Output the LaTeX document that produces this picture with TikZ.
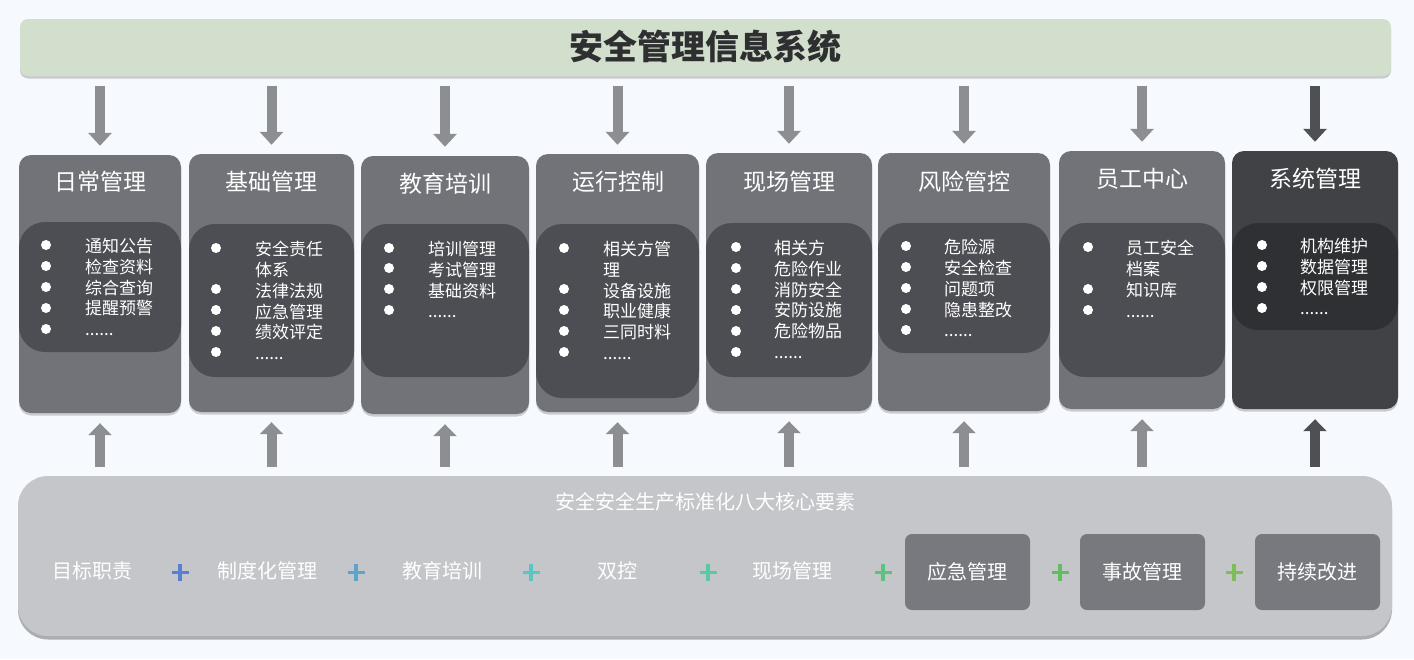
\documentclass[tikz,border=0pt]{standalone}
\usepackage{fontspec}
\setmainfont{Noto Sans CJK SC}
\usetikzlibrary{arrows.meta,fit,shadows,calc}
\definecolor{bg}{HTML}{F6F9FD}
\definecolor{titlefill}{HTML}{D3DFCD}
\definecolor{titletext}{HTML}{2E2F31}
\definecolor{outerc}{HTML}{717378}
\definecolor{innerc}{HTML}{4D4E53}
\definecolor{outerd}{HTML}{414246}
\definecolor{innerd}{HTML}{2F3034}
\definecolor{arrc}{HTML}{8C8E92}
\definecolor{arrd}{HTML}{4F5054}
\definecolor{panelc}{HTML}{C4C6CA}
\definecolor{smallc}{HTML}{77797E}
\definecolor{pa}{HTML}{5A7FD2}
\definecolor{pb}{HTML}{5AA5C9}
\definecolor{pc}{HTML}{58C6C4}
\definecolor{pd}{HTML}{5AC8A0}
\definecolor{pe}{HTML}{5CC37F}
\definecolor{pf}{HTML}{5FBF5F}
\definecolor{pg}{HTML}{7EBD58}
\tikzset{
  shad/.style={drop shadow={shadow xshift=0pt,shadow yshift=-2.5pt,opacity=.18,fill=black}},
  titlebar/.style={fill=titlefill,rounded corners=8pt,inner sep=0pt,shad},
  outerbox/.style={fill=outerc,rounded corners=12pt,inner sep=0pt,shad},
  innerbox/.style={fill=innerc,rounded corners=26pt,inner sep=0pt},
  outerdark/.style={fill=outerd,rounded corners=12pt,inner sep=0pt,shad},
  innerdark/.style={fill=innerd,rounded corners=26pt,inner sep=0pt},
  head/.style={text=white,font=\fontsize{23}{23}\selectfont,inner sep=0pt},
  itemlist/.style={text=white,font=\fontsize{17}{20.8}\selectfont,align=left,inner sep=0pt,anchor=north west},
  dot/.style={fill=white},
  darr/.style={draw=arrc,line width=10pt,-{Triangle[width=23pt,length=13pt]}},
  uarr/.style={draw=arrc,line width=10pt,-{Triangle[width=23pt,length=12pt]}},
  panelbox/.style={fill=panelc,rounded corners=30pt,inner sep=0pt,drop shadow={shadow xshift=0pt,shadow yshift=-3.5pt,opacity=.3,fill=black}},
  ptitle/.style={text=white,font=\fontsize{20}{20}\selectfont,inner sep=0pt},
  elem/.style={text=white,font=\fontsize{20}{20}\selectfont,inner sep=0pt},
  smallbox/.style={fill=smallc,rounded corners=7pt,text=white,font=\fontsize{20}{20}\selectfont,minimum width=125pt,minimum height=76pt,inner sep=0pt},
  plus/.style={line width=3.5pt}
}
\begin{document}
\begin{tikzpicture}[x=1pt,y=-1pt]
\fill[bg] (0,0) rectangle (1414,659);
\useasboundingbox (0,0) rectangle (1414,659);

% title
\node[titlebar,fit={(20,19) (1391,76)}] (title) {};
\node[text=titletext,font=\fontsize{34}{34}\selectfont\bfseries,inner sep=0pt] (ttext) at (705,47) {安全管理信息系统};

% column 1
\node[outerbox,fit={(19,155) (181,413)}] (b1) {};
\node[innerbox,fit={(19,222) (181,352)}] (i1) {};
\node[head] (h1) at (100,182) {日常管理};
\node[itemlist] (l1) at (85,238) {通知公告\\检查资料\\综合查询\\提醒预警\\......};
\foreach \y in {245,266,287,308,329} \fill[dot] (46,\y) circle[radius=5pt];

% column 2
\node[outerbox,fit={(189,154) (354,412)}] (b2) {};
\node[innerbox,fit={(189,224) (354,377)}] (i2) {};
\node[head] (h2) at (271,182) {基础管理};
\node[itemlist] (l2) at (255,241) {安全责任\\体系\\法律法规\\应急管理\\绩效评定\\......};
\foreach \y in {248,289,310,331,352} \fill[dot] (216,\y) circle[radius=5pt];

% column 3
\node[outerbox,fit={(361,156) (529,414)}] (b3) {};
\node[innerbox,fit={(361,224) (529,377)}] (i3) {};
\node[head] (h3) at (445,184) {教育培训};
\node[itemlist] (l3) at (428,241) {培训管理\\考试管理\\基础资料\\......};
\foreach \y in {248,268,289,310} \fill[dot] (389,\y) circle[radius=5pt];

% column 4
\node[outerbox,fit={(536,154) (699,412)}] (b4) {};
\node[innerbox,fit={(536,224) (699,398)}] (i4) {};
\node[head] (h4) at (618,182) {运行控制};
\node[itemlist] (l4) at (603,241) {相关方管\\理\\设备设施\\职业健康\\三同时料\\......};
\foreach \y in {248,289,310,331,352} \fill[dot] (564,\y) circle[radius=5pt];

% column 5
\node[outerbox,fit={(706,153) (872,411)}] (b5) {};
\node[innerbox,fit={(706,223) (872,377)}] (i5) {};
\node[head] (h5) at (789,182) {现场管理};
\node[itemlist] (l5) at (774,240) {相关方\\危险作业\\消防安全\\安防设施\\危险物品\\......};
\foreach \y in {247,268,289,310,331,352} \fill[dot] (736,\y) circle[radius=5pt];

% column 6
\node[outerbox,fit={(878,153) (1050,411)}] (b6) {};
\node[innerbox,fit={(878,223) (1050,353)}] (i6) {};
\node[head] (h6) at (964,182) {风险管控};
\node[itemlist] (l6) at (944,239) {危险源\\安全检查\\问题项\\隐患整改\\......};
\foreach \y in {246,267,288,309,330} \fill[dot] (906,\y) circle[radius=5pt];

% column 7
\node[outerbox,fit={(1059,151) (1225,409)}] (b7) {};
\node[innerbox,fit={(1059,223) (1225,377)}] (i7) {};
\node[head] (h7) at (1142,179) {员工中心};
\node[itemlist] (l7) at (1126,240) {员工安全\\档案\\知识库\\......};
\foreach \y in {247,289,310} \fill[dot] (1088,\y) circle[radius=5pt];

% column 8
\node[outerdark,fit={(1232,151) (1398,409)}] (b8) {};
\node[innerdark,fit={(1232,223) (1398,330)}] (i8) {};
\node[head] (h8) at (1315,179) {系统管理};
\node[itemlist] (l8) at (1300,238) {机构维护\\数据管理\\权限管理\\......};
\foreach \y in {245,266,287,308} \fill[dot] (1262,\y) circle[radius=5pt];

% bottom panel
\node[panelbox,fit={(18,476) (1392,636)}] (panel) {};
\node[ptitle] (pt) at (705,502) {安全安全生产标准化八大核心要素};
\node[elem] (e1) at (92,571) {目标职责};
\node[elem] (e2) at (267,571) {制度化管理};
\node[elem] (e3) at (442,571) {教育培训};
\node[elem] (e4) at (617,571) {双控};
\node[elem] (e5) at (792,571) {现场管理};
\node[smallbox] (e6) at (967.5,572) {应急管理};
\node[smallbox] (e7) at (1142.5,572) {事故管理};
\node[smallbox] (e8) at (1317.5,572) {持续改进};

\foreach \x/\c in {180/pa,356/pb,531/pc,708/pd,883/pe,1060/pf,1234/pg}
  \draw[plus,draw=\c] (\x,564) -- (\x,581) (\x-8.5,572.5) -- (\x+8.5,572.5);

% arrows down
\foreach \b in {b1,b2,b3,b4,b5,b6,b7}
  \draw[darr] ($(\b.north |- title.south)+(0,10)$) -- ($(\b.north)+(0,-9)$);
\draw[darr,draw=arrd] ($(b8.north |- title.south)+(0,10)$) -- ($(b8.north)+(0,-9)$);

% arrows up
\foreach \b in {b1,b2,b3,b4,b5,b6,b7}
  \draw[uarr] ($(\b.south |- panel.north)+(0,-9)$) -- ($(\b.south)+(0,10)$);
\draw[uarr,draw=arrd] ($(b8.south |- panel.north)+(0,-9)$) -- ($(b8.south)+(0,10)$);
\end{tikzpicture}
\end{document}
